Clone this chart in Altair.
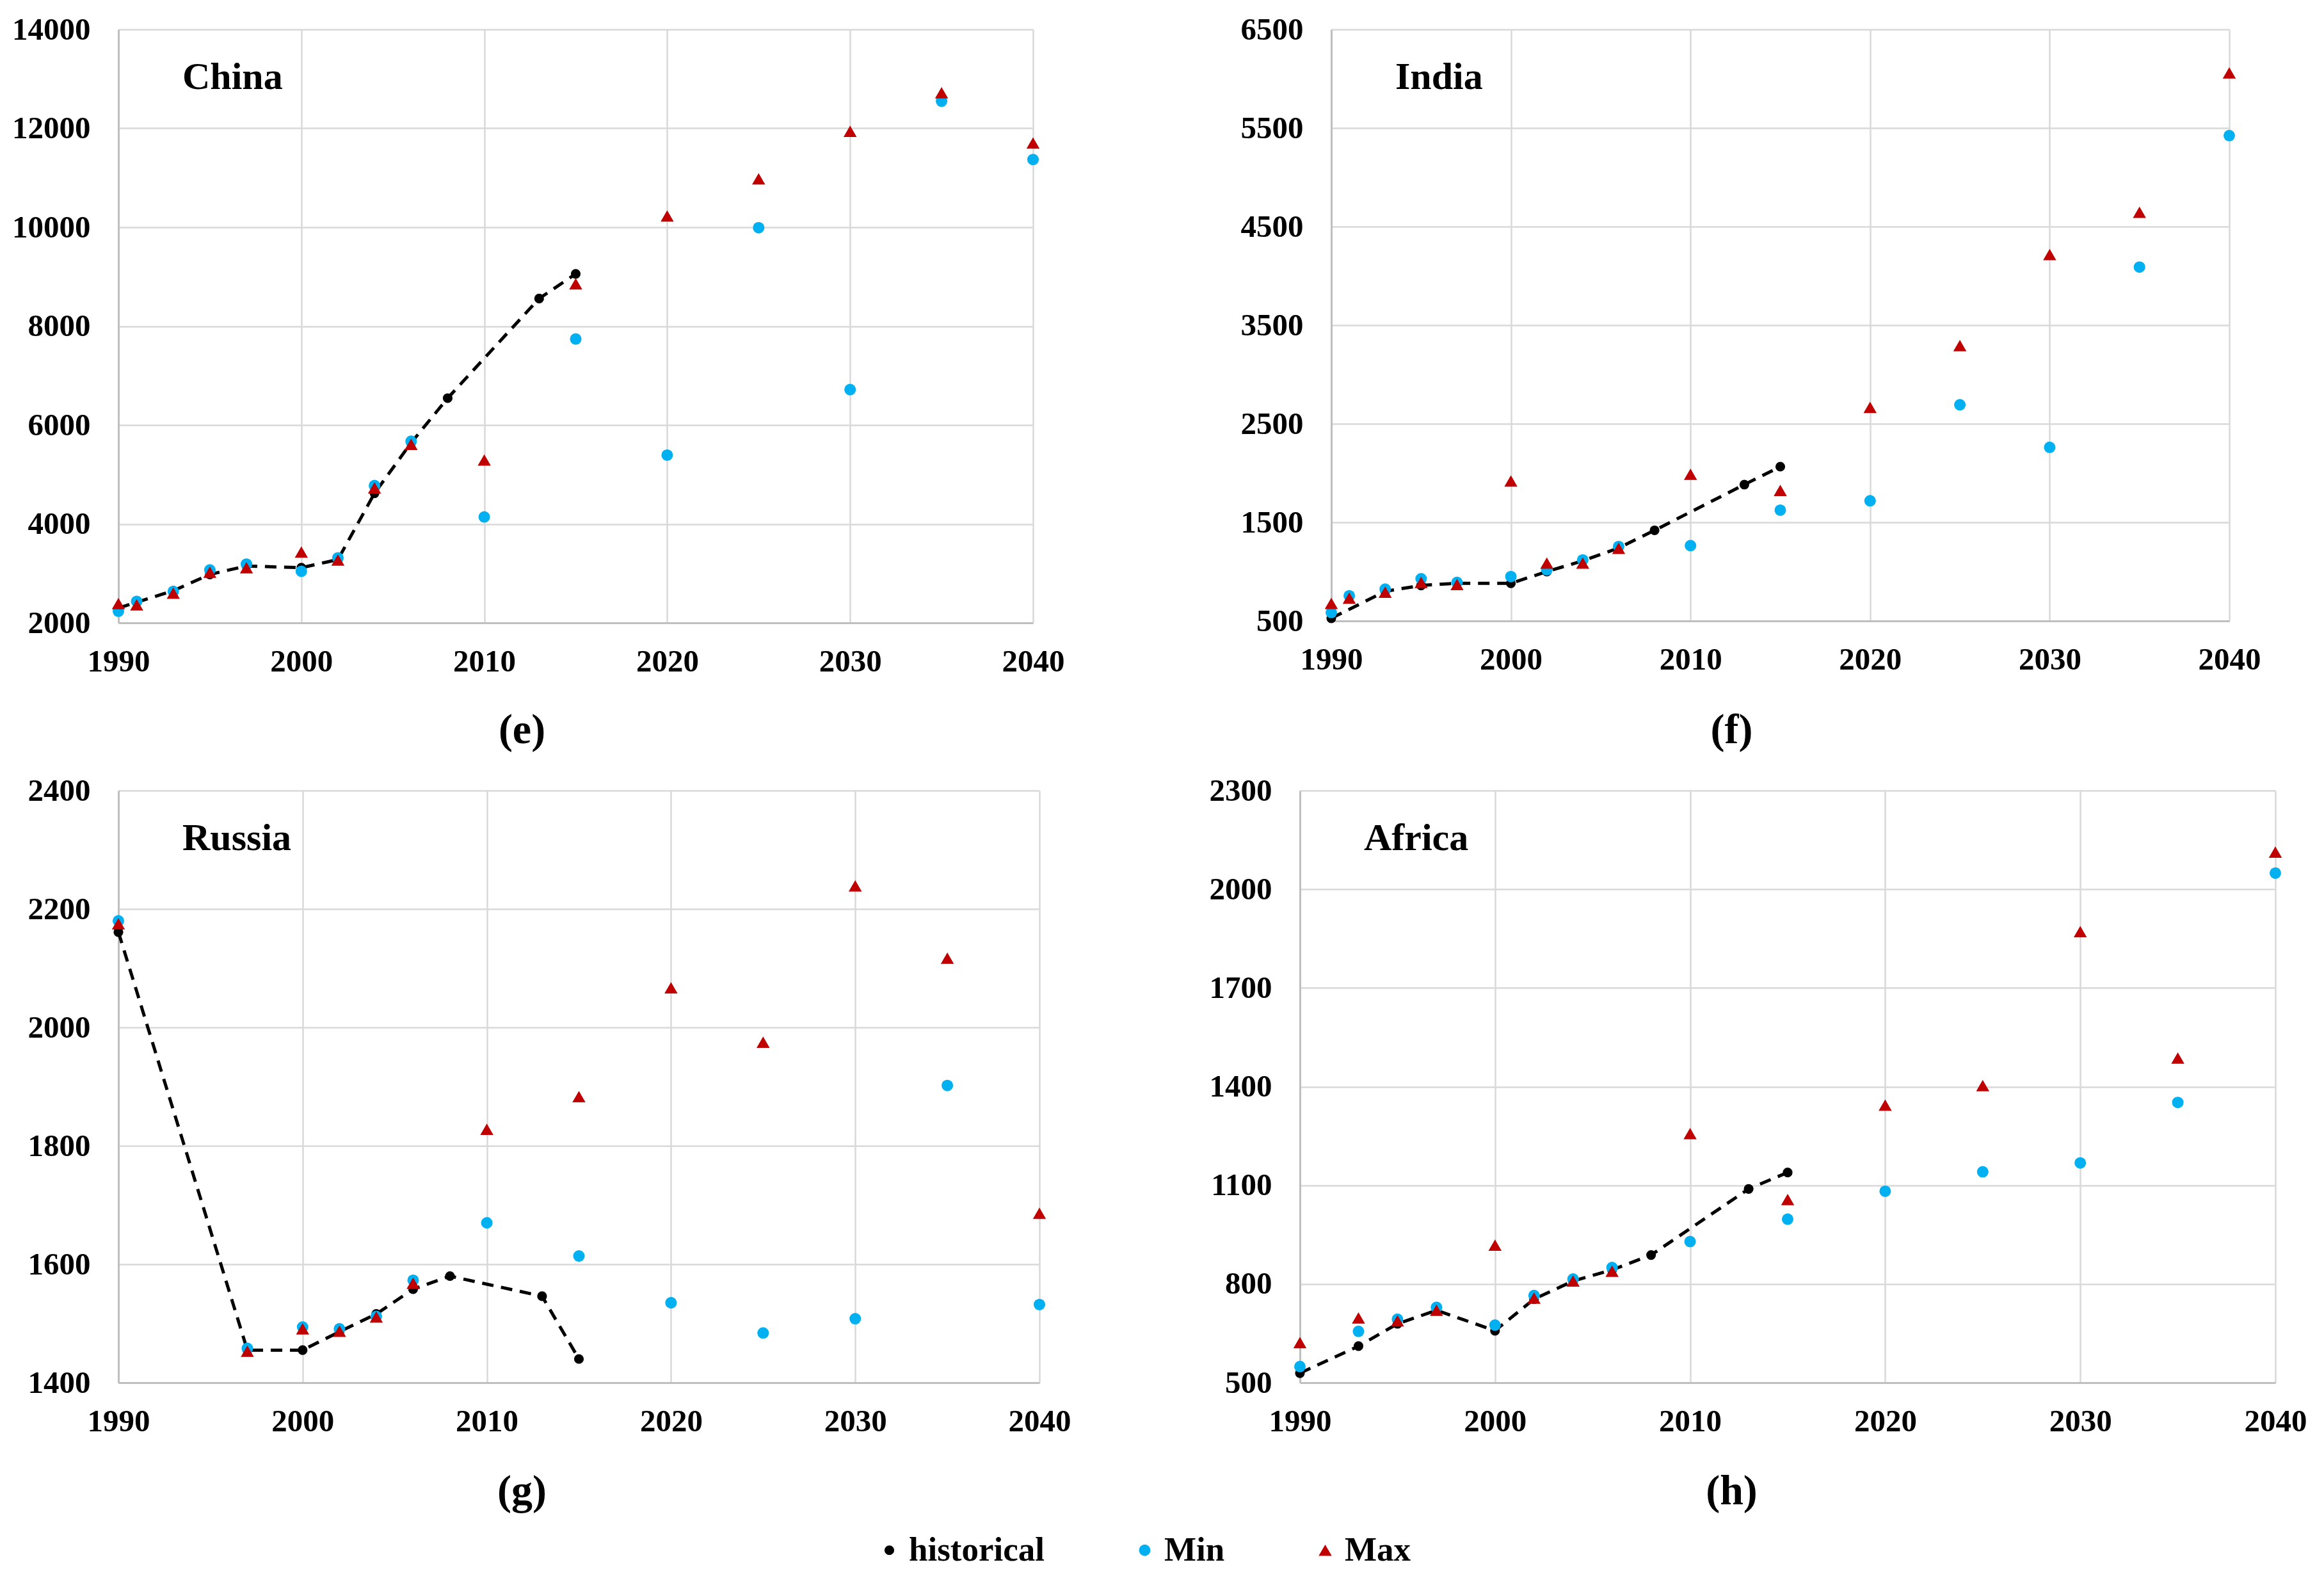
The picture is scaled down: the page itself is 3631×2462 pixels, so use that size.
import altair as alt
import pandas as pd

# ---------------- data ----------------
proj_years = [1990, 1991, 1993, 1995, 1997, 2000, 2002, 2004, 2006, 2010, 2015, 2020, 2025, 2030, 2035, 2040]
hist_years = [1990, 1993, 1995, 1997, 2000, 2002, 2004, 2006, 2008, 2013, 2015]

china_min = [2236, 2435, 2635, 3070, 3188, 3043, 3315, 4775, 5673, 4141, 7741, 5392, 9991, 6717, 12549, 11370]
china_max = [2390, 2363, 2599, 3025, 3116, 3433, 3270, 4730, 5610, 5293, 8857, 10227, 10980, 11941, 12721, 11705]
china_hist = [2300, 2650, 2980, 3150, 3115, 3280, 4620, 5640, 6544, 8558, 9057]

india_min = [586, 755, 823, 928, 891, 950, 1019, 1119, 1255, 1264, 1624, 1719, 2693, 2261, 4090, 5423]
india_max = [677, 732, 791, 891, 869, 1919, 1087, 1087, 1237, 1988, 1824, 2666, 3293, 4217, 4645, 6060]
india_hist = [527, 800, 860, 882, 882, 1000, 1110, 1240, 1419, 1883, 2065]

russia_years = [1990, 1997, 2000, 2002, 2004, 2006, 2010, 2015, 2020, 2025, 2030, 2035, 2040]
russia_min = [2180, 1458, 1494, 1491, 1512, 1573, 1670, 1614, 1535, 1484, 1508, 1902, 1532]
russia_max = [2175, 1453, 1491, 1487, 1511, 1568, 1828, 1883, 2067, 1975, 2239, 2117, 1686]
russia_hist_years = [1990, 1997, 2000, 2002, 2004, 2006, 2008, 2013, 2015]
russia_hist = [2161, 1455, 1455, 1486, 1516, 1558, 1580, 1546, 1440]

africa_years = [1990, 1993, 1995, 1997, 2000, 2002, 2004, 2006, 2010, 2015, 2020, 2025, 2030, 2035, 2040]
africa_min = [549, 656, 693, 729, 675, 765, 815, 850, 929, 997, 1082, 1141, 1168, 1352, 2049]
africa_max = [622, 697, 688, 720, 918, 757, 809, 839, 1257, 1057, 1344, 1403, 1871, 1487, 2113]
africa_hist = [529, 611, 679, 720, 658, 754, 809, 843, 888, 1089, 1139]

series_names = ["historical", "Min", "Max"]
series_colors = ["#000000", "#00B0F0", "#C00000"]
series_shapes = ["circle", "circle", "triangle-up"]
series_sizes = [230, 420, 400]

x_ticks = [1990, 2000, 2010, 2020, 2030, 2040]

FONT = "Liberation Serif"


def make_df(years, vmin, vmax, hyears, hvals):
    rows = []
    for y, v in zip(hyears, hvals):
        rows.append({"year": y, "value": v, "series": "historical", "ord": 0})
    for y, v in zip(years, vmin):
        rows.append({"year": y, "value": v, "series": "Min", "ord": 1})
    for y, v in zip(years, vmax):
        rows.append({"year": y, "value": v, "series": "Max", "ord": 2})
    return pd.DataFrame(rows)


def legend():
    return alt.Legend(
        orient="none", legendX=1178, legendY=2349, direction="horizontal",
        title=None, labelFont=FONT, labelFontSize=53, labelFontWeight="bold",
        labelColor="black", symbolSize=460, columnPadding=130, labelOffset=4,
        symbolStrokeWidth=0, labelLimit=0,
    )


def panel(name, label, df, ydomain, yvalues, width, height, title_x, title_y, ext):
    base = alt.Chart(df)
    x = alt.X(
        "year:Q",
        scale=alt.Scale(domain=[1990, 2040], nice=False, zero=False),
        axis=alt.Axis(
            values=x_ticks, format="d", title=label, labelFlush=False,
            titleX=title_x, titleY=title_y, titleAlign="center", titleBaseline="middle",
            titleFont=FONT, titleFontSize=66, titleFontWeight="bold", titleColor="black",
        ),
    )
    y = alt.Y(
        "value:Q",
        scale=alt.Scale(domain=ydomain, nice=False, zero=False),
        axis=alt.Axis(values=yvalues, format="d", title=None, minExtent=ext, labelFlush=False),
    )
    line = (
        base.transform_filter(alt.datum.series == "historical")
        .mark_line(color="black", strokeDash=[18, 12], strokeWidth=5)
        .encode(x=x, y=y)
    )
    pts = base.mark_point(filled=True, opacity=1, strokeWidth=0).encode(
        x=x,
        y=y,
        color=alt.Color("series:N", scale=alt.Scale(domain=series_names, range=series_colors), legend=legend()),
        shape=alt.Shape("series:N", scale=alt.Scale(domain=series_names, range=series_shapes), legend=legend()),
        size=alt.Size("series:N", scale=alt.Scale(domain=series_names, range=series_sizes), legend=None),
        order=alt.Order("ord:Q"),
    )
    region_label = (
        alt.Chart(pd.DataFrame({"region": [name]}))
        .mark_text(align="left", baseline="middle", font=FONT, fontSize=60,
                   fontWeight="bold", color="black")
        .encode(text="region:N", x=alt.value(100), y=alt.value(75))
    )
    return alt.layer(line, pts, region_label).properties(width=width, height=height)


china = panel("China", "(e)", make_df(proj_years, china_min, china_max, hist_years, china_hist),
              [2000, 14000], list(range(2000, 14001, 2000)), 1429, 927, 630, 167, 177)
india = panel("India", "(f)", make_df(proj_years, india_min, india_max, hist_years, india_hist),
              [500, 6500], list(range(500, 6501, 1000)), 1403, 924, 625, 170, 150)
russia = panel("Russia", "(g)", make_df(russia_years, russia_min, russia_max, russia_hist_years, russia_hist),
               [1400, 2400], list(range(1400, 2401, 200)), 1439, 925, 630, 169, 177)
africa = panel("Africa", "(h)", make_df(africa_years, africa_min, africa_max, hist_years, africa_hist),
               [500, 2300], list(range(500, 2301, 300)), 1524, 925, 674, 169, 150)

top = alt.hconcat(china, india, spacing=466, bounds="flush").resolve_scale(x="independent", y="independent")
bottom = alt.hconcat(russia, africa, spacing=407, bounds="flush").resolve_scale(x="independent", y="independent")

chart = (
    alt.vconcat(top, bottom, spacing=38)
    .resolve_scale(x="independent", y="independent", color="shared", shape="shared", size="shared")
    .resolve_legend(color="shared", shape="shared")
    .properties(padding={"left": 0, "top": 14, "right": 5, "bottom": 5})
    .configure_view(stroke=None)
    .configure_axis(
        labelFont=FONT, labelFontSize=49, labelFontWeight="bold", labelColor="black",
        ticks=False, grid=True, gridColor="#D9D9D9", gridWidth=2.5,
        domainColor="#BFBFBF", domainWidth=3,
    )
    .configure_axisX(labelPadding=36, domain=True)
    .configure_axisY(labelPadding=44, domain=True)
)

chart.save("out.html", embed_options={"renderer": "svg", "actions": False})
